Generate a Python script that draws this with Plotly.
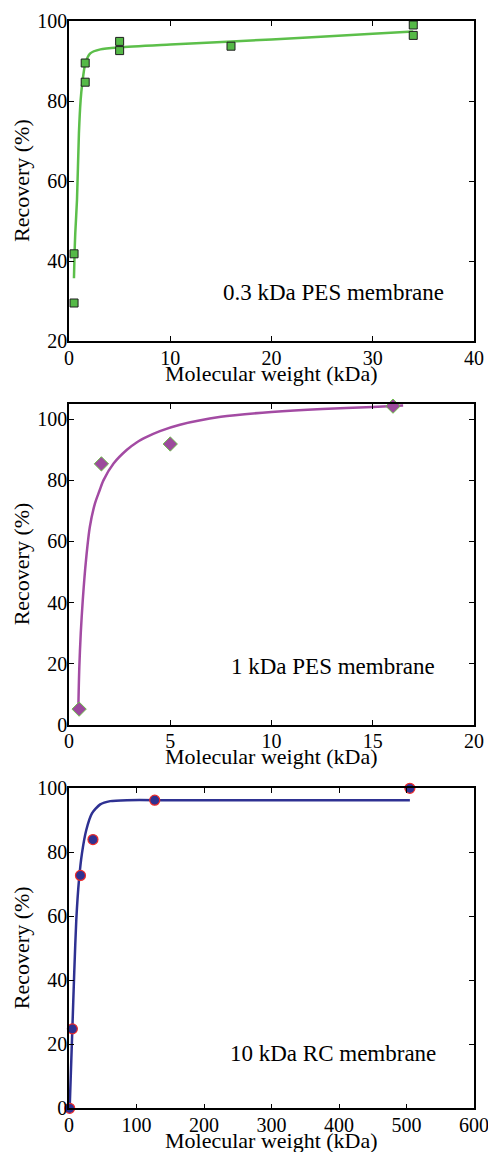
import plotly.graph_objects as go

# ---------------- Data ----------------
# Panel 1: 0.3 kDa PES membrane
p1_mw = [0.5, 0.5, 1.6, 1.6, 5, 5, 16, 34, 34]
p1_rec = [41.8, 29.5, 89.5, 84.7, 94.9, 92.6, 93.7, 99.0, 96.4]
p1_fit_mw = [0.49, 0.55, 0.62, 0.79, 0.98, 1.15, 1.31, 1.61, 2.1, 3.1, 5, 10, 20, 30, 34]
p1_fit_rec = [35.7, 42.0, 47.0, 55.3, 71.9, 80.2, 84.4, 89.4, 91.9, 92.9, 93.4, 94.1, 95.4, 96.8, 97.4]

# Panel 2: 1 kDa PES membrane
p2_mw = [0.5, 1.6, 5, 16]
p2_rec = [5.1, 85.4, 91.9, 104.3]
p2_fit_mw = [0.46, 0.51, 0.58, 0.68, 0.84, 1.03, 1.28, 1.5, 1.7, 2.2, 2.86, 3.34, 3.84, 4.49, 5.48, 7.5, 10, 12.5, 15, 16.5]
p2_fit_rec = [5.4, 19.0, 29.9, 40.8, 53.9, 64.8, 72.4, 76.5, 80.0, 85.5, 90.0, 92.4, 94.2, 96.1, 98.2, 100.8, 102.4, 103.4, 104.0, 104.5]

# Panel 3: 10 kDa RC membrane
p3_mw = [1, 5, 17, 35.5, 127, 505]
p3_rec = [0, 24.8, 72.7, 83.9, 96.2, 99.9]
p3_fit_mw = [1, 4.9, 7.9, 10.8, 14.8, 19.2, 25.6, 34, 46.3, 61.1, 85.9, 150, 300, 505]
p3_fit_rec = [0, 24.4, 43.2, 58.8, 71.3, 79.6, 86.9, 92.1, 94.9, 95.9, 96.2, 96.2, 96.2, 96.2]

labels = ["0.3 kDa PES membrane", "1 kDa PES membrane", "10 kDa RC membrane"]
x_title = "Molecular weight (kDa)"
y_title = "Recovery (%)"

# ---------------- Figure ----------------
FONT = "Liberation Serif, Times New Roman, serif"
W, H = 488, 1152
XL, XR = 69, 474
panels_px = [(21, 341), (404, 724.7), (788, 1108.3)]
xdom = [XL / W, XR / W]
ydoms = [[1 - b / H, 1 - t / H] for (t, b) in panels_px]

fig = go.Figure()

# panel 1
fig.add_trace(go.Scatter(x=p1_fit_mw, y=p1_fit_rec, mode="lines",
                         line=dict(color="#5CBF4A", width=2.5, shape="spline", smoothing=0.6),
                         xaxis="x", yaxis="y", showlegend=False, hoverinfo="skip", cliponaxis=False))
fig.add_trace(go.Scatter(x=p1_mw, y=p1_rec, mode="markers",
                         marker=dict(symbol="square", size=8, color="#55B947", line=dict(color="#1E1E1E", width=1)),
                         xaxis="x", yaxis="y", showlegend=False, cliponaxis=False))
# panel 2
fig.add_trace(go.Scatter(x=p2_fit_mw, y=p2_fit_rec, mode="lines",
                         line=dict(color="#A34BA3", width=2.5, shape="spline", smoothing=0.8),
                         xaxis="x2", yaxis="y2", showlegend=False, hoverinfo="skip", cliponaxis=False))
fig.add_trace(go.Scatter(x=p2_mw, y=p2_rec, mode="markers",
                         marker=dict(symbol="diamond", size=11, color="#9C4A9C", line=dict(color="#6DBE4B", width=1)),
                         xaxis="x2", yaxis="y2", showlegend=False, cliponaxis=False))
# panel 3
fig.add_trace(go.Scatter(x=p3_fit_mw, y=p3_fit_rec, mode="lines",
                         line=dict(color="#2E3192", width=2.5, shape="spline", smoothing=0.6),
                         xaxis="x3", yaxis="y3", showlegend=False, hoverinfo="skip", cliponaxis=False))
fig.add_trace(go.Scatter(x=p3_mw, y=p3_rec, mode="markers",
                         marker=dict(symbol="circle", size=10, color="#2E3192", line=dict(color="#EE2A2A", width=1.2)),
                         xaxis="x3", yaxis="y3", showlegend=False, cliponaxis=False))

axis_common = dict(
    showline=True, linecolor="black", linewidth=1.5, mirror="ticks",
    ticks="inside", ticklen=5, tickwidth=1, tickcolor="black",
    showgrid=False, zeroline=False, automargin=False, ticklabeloverflow="allow",
    tickfont=dict(family=FONT, size=20, color="black"),
)

xranges = [[0, 40], [0, 20], [0, 600]]
xdticks = [10, 5, 100]
yranges = [[20, 100], [0, 105], [0, 100]]
ydticks = [20, 20, 20]
label_pos = [(0.931, 0.151), (0.909, 0.18), (0.911, 0.17)]

annotations = []
layout = dict(
    template="none",
    width=W, height=H,
    margin=dict(l=0, r=0, t=0, b=0, autoexpand=False),
    paper_bgcolor="white", plot_bgcolor="white",
    font=dict(family=FONT, color="black"),
)
for i in range(3):
    sx = "" if i == 0 else str(i + 1)
    top, bot = panels_px[i]
    layout["xaxis" + sx] = dict(axis_common, domain=xdom, anchor="y" + sx, range=xranges[i],
                                dtick=xdticks[i], tick0=0, ticklabelstandoff=-2)
    layout["yaxis" + sx] = dict(axis_common, domain=ydoms[i], anchor="x" + sx, range=yranges[i],
                                dtick=ydticks[i], tick0=0, ticklabelstandoff=-4)
    # panel label
    annotations.append(dict(
        text=labels[i], xref="x" + sx + " domain", yref="y" + sx + " domain",
        x=label_pos[i][0], y=label_pos[i][1], xanchor="right", yanchor="middle", showarrow=False,
        font=dict(family=FONT, size=23, color="black")))
    # x axis title
    annotations.append(dict(
        text=x_title, xref="paper", yref="paper",
        x=(XL + XR) / 2 / W, y=1 - (bot + 32) / H, xanchor="center", yanchor="middle", showarrow=False,
        font=dict(family=FONT, size=22, color="black")))
    # y axis title
    annotations.append(dict(
        text=y_title, xref="paper", yref="paper", textangle=-90,
        x=21 / W, y=1 - (top + bot) / 2 / H, xanchor="center", yanchor="middle", showarrow=False,
        font=dict(family=FONT, size=22, color="black")))

layout["annotations"] = annotations
fig.update_layout(**layout)
fig.write_html("out.html", config={"displayModeBar": False},
               post_script="document.body.style.margin='0';document.body.style.overflow='hidden';")
